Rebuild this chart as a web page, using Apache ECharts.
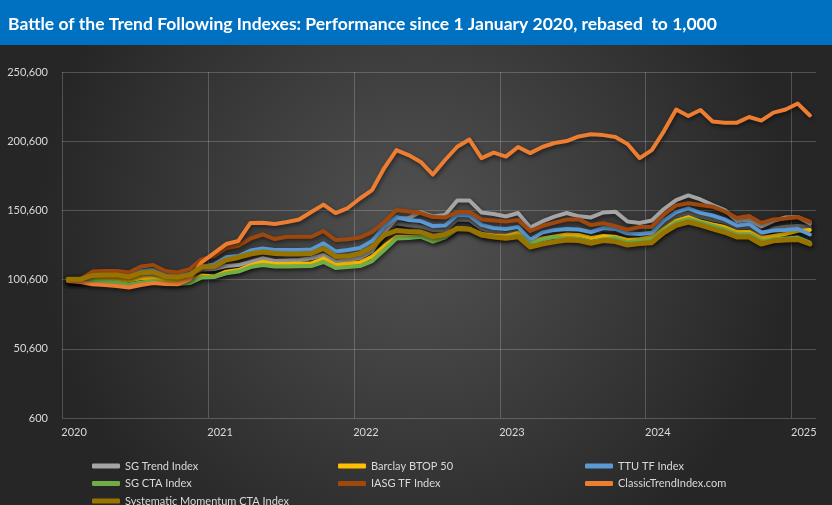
<!DOCTYPE html>
<html>
<head>
<meta charset="utf-8">
<script src="https://cdn.jsdelivr.net/npm/echarts@6/dist/echarts.min.js"></script>
<style>
  html, body { margin: 0; padding: 0; background: #2b2b2b; }
  #chart { width: 832px; height: 505px; }
</style>
</head>
<body>
<div id="chart"></div>
<script>
// 年份刻度（每 12 个月一个），月度类目 2020-01 .. 2025-02
const years = ['2020', '2021', '2022', '2023', '2024', '2025'];
const months = [];
years.forEach(y => {
  for (let m = 1; m <= 12; m++) months.push(y + '-' + String(m).padStart(2, '0'));
});
months.length = 62;

// 年分隔线所在的月序号（类目边界）
const yearBounds = [0, 12, 24, 36, 48, 60];

// y 轴刻度（千）
const yTicks = [0.6, 50.6, 100.6, 150.6, 200.6, 250.6];

// 各指数数值（千），自图中读出
const sgTrend = [100.5, 100.5, 102.5, 102.5, 102.1, 101.0, 102.1, 104.3, 102.0, 101.6, 103.2, 107.9,
  108.3, 110.4, 111.1, 113.3, 116.0, 114.0, 114.4, 114.8, 116.0, 118.4, 113.5, 114.8,
  116.2, 121.3, 135.0, 144.8, 145.1, 149.4, 146.2, 147.3, 157.8, 157.8, 149.1, 148.0,
  146.2, 148.7, 138.3, 142.6, 146.1, 148.7, 146.3, 145.5, 149.1, 149.7, 142.6, 141.5,
  143.3, 151.6, 158.1, 161.4, 158.5, 154.5, 150.9, 143.0, 143.7, 139.0, 143.0, 145.5,
  145.9, 141.1];
const barclay = [100.5, 100.5, 101.5, 101.5, 101.0, 100.0, 101.5, 101.5, 100.2, 100.0, 99.8, 103.6,
  102.8, 106.3, 107.5, 110.8, 113.3, 111.9, 111.9, 112.2, 112.4, 115.8, 111.1, 112.2,
  113.0, 117.3, 124.9, 131.4, 131.4, 131.6, 129.2, 131.4, 137.9, 137.2, 133.6, 132.5,
  132.1, 134.3, 127.8, 130.3, 131.7, 133.2, 132.8, 130.7, 132.1, 131.4, 129.2, 129.7,
  131.4, 137.2, 143.1, 145.8, 142.6, 140.4, 138.6, 135.0, 135.2, 130.7, 132.1, 133.6,
  135.9, 136.5];
const ttu = [100.5, 100.5, 104.5, 104.5, 104.0, 103.0, 107.0, 107.5, 104.0, 103.5, 105.0, 110.0,
  111.5, 116.7, 117.6, 121.6, 123.0, 122.0, 122.0, 122.0, 122.3, 126.8, 120.9, 122.0,
  123.4, 128.5, 139.3, 145.8, 143.7, 142.9, 139.3, 139.7, 147.3, 147.0, 140.1, 137.9,
  137.2, 138.7, 129.3, 134.7, 136.5, 137.2, 136.8, 135.0, 137.9, 137.2, 134.0, 133.6,
  134.4, 143.4, 149.3, 152.1, 148.8, 146.9, 144.1, 139.7, 140.8, 134.7, 136.0, 136.5,
  137.2, 133.2];
const sgCta = [100.3, 99.9, 99.6, 99.2, 98.5, 97.0, 98.5, 99.6, 97.8, 97.4, 98.1, 102.1,
  102.5, 105.1, 106.4, 109.7, 111.1, 110.0, 110.0, 110.3, 110.4, 113.3, 109.0, 109.7,
  110.4, 114.0, 122.0, 130.3, 130.6, 131.6, 128.1, 131.2, 137.2, 136.9, 132.5, 131.4,
  130.7, 132.5, 126.0, 129.6, 131.4, 130.0, 130.0, 127.4, 129.6, 130.4, 127.4, 128.7,
  129.2, 136.1, 141.9, 144.2, 141.9, 139.3, 136.8, 133.2, 133.6, 128.1, 129.7, 130.3,
  131.0, 127.4];
const iasg = [100.6, 100.8, 106.4, 106.8, 106.8, 105.7, 110.1, 111.1, 106.8, 105.7, 108.2, 115.4,
  117.6, 123.4, 125.0, 130.3, 133.2, 129.9, 131.6, 131.6, 131.6, 135.7, 129.2, 129.7,
  131.0, 135.0, 142.2, 150.9, 149.8, 148.7, 145.8, 145.4, 149.4, 149.4, 144.1, 143.3,
  142.5, 143.6, 135.7, 139.3, 141.8, 144.0, 144.1, 140.0, 141.3, 139.3, 136.6, 138.6,
  138.8, 147.7, 154.2, 155.7, 154.5, 153.3, 149.8, 145.1, 146.6, 141.5, 144.1, 144.8,
  145.9, 142.5];
const classicTrend = [99.5, 98.9, 97.2, 96.7, 96.0, 94.9, 96.7, 98.1, 97.4, 97.2, 101.0, 113.3,
  119.8, 126.3, 128.5, 141.5, 141.7, 140.8, 142.2, 144.0, 149.4, 154.8, 148.7, 152.3,
  159.2, 165.3, 181.2, 194.2, 190.6, 185.6, 176.5, 187.0, 196.6, 201.8, 188.4, 192.3,
  189.5, 196.4, 192.0, 196.4, 199.3, 200.7, 204.0, 205.6, 205.0, 203.6, 198.6, 188.4,
  194.2, 207.9, 223.5, 218.8, 223.1, 214.8, 214.0, 214.0, 218.1, 215.5, 221.2, 223.5,
  227.8, 219.2];
const sysMomentum = [100.8, 100.8, 103.6, 104.0, 104.0, 102.5, 105.4, 106.1, 102.9, 102.3, 104.0, 109.7,
  110.0, 114.8, 116.6, 119.1, 120.5, 119.5, 119.1, 119.1, 119.5, 123.1, 117.3, 117.6,
  119.5, 124.1, 132.8, 136.1, 135.4, 135.0, 131.8, 133.2, 137.5, 137.0, 132.8, 131.4,
  130.4, 131.6, 124.1, 126.3, 128.0, 129.2, 128.8, 126.8, 128.8, 128.1, 125.6, 126.6,
  127.3, 134.6, 139.8, 142.2, 140.0, 137.2, 134.8, 131.4, 131.4, 126.3, 128.6, 129.2,
  129.6, 126.3];
// 图中另有两条未列入图例的线（深灰、近黑）
const darkGrayLine = [100.5, 100.5, 103.8, 104.0, 103.8, 102.6, 106.0, 106.6, 103.4, 102.8, 104.5, 109.5,
  110.5, 115.5, 116.8, 120.0, 121.5, 120.5, 120.5, 120.6, 120.8, 124.8, 119.0, 119.8,
  121.2, 126.0, 136.0, 141.5, 139.8, 139.0, 136.4, 136.0, 144.0, 143.7, 137.2, 135.0,
  133.6, 135.4, 125.6, 128.5, 130.4, 132.5, 131.8, 129.6, 132.1, 131.6, 128.1, 129.9,
  131.6, 140.8, 146.6, 148.5, 146.2, 144.0, 142.2, 137.9, 138.8, 132.8, 137.5, 138.8,
  139.3, 138.8];
const blackLine = [99.5, 99.5, 101.0, 101.0, 100.5, 99.5, 100.8, 102.5, 100.5, 100.0, 101.5, 105.5,
  106.0, 108.5, 109.5, 112.0, 114.5, 112.8, 113.0, 113.2, 114.5, 116.8, 112.2, 113.2,
  114.8, 119.5, 130.0, 138.0, 138.5, 140.0, 136.5, 136.5, 142.5, 142.2, 136.0, 134.6,
  133.8, 136.0, 127.6, 131.2, 132.8, 134.5, 133.5, 131.5, 134.0, 133.6, 130.2, 130.4,
  132.0, 139.0, 145.0, 147.5, 145.0, 142.6, 140.6, 136.8, 137.3, 132.3, 135.5, 136.8,
  138.5, 137.4];

const seriesDefs = [
  { name: '_black', data: blackLine, color: '#1e2228', width: 3 },
  { name: '_darkgray', data: darkGrayLine, color: '#636363', width: 4 },
  { name: 'SG Trend Index', data: sgTrend, color: '#A5A5A5', width: 4 },
  { name: 'Barclay BTOP 50', data: barclay, color: '#FFC000', width: 4 },
  { name: 'TTU TF Index', data: ttu, color: '#5B9BD5', width: 4 },
  { name: 'SG CTA Index', data: sgCta, color: '#70AD47', width: 4 },
  { name: 'IASG TF Index', data: iasg, color: '#9E480E', width: 4 },
  { name: 'ClassicTrendIndex.com', data: classicTrend, color: '#ED7D31', width: 4 },
  { name: 'Systematic Momentum CTA Index', data: sysMomentum, color: '#997300', width: 5 },
];

// 图例：三列布局，逐项定位
const legendSlots = [
  ['SG Trend Index', 92, 459], ['Barclay BTOP 50', 338, 459], ['TTU TF Index', 585, 459],
  ['SG CTA Index', 92, 476.5], ['IASG TF Index', 338, 476.5], ['ClassicTrendIndex.com', 585, 476.5],
  ['Systematic Momentum CTA Index', 92, 494],
];

const FONT = 'Lato, "Open Sans", sans-serif';
const GRID_COLOR = 'rgba(255,255,255,0.2)';
const chart = echarts.init(document.getElementById('chart'));

chart.setOption({
  animation: false,
  backgroundColor: {
    type: 'radial', x: 0.5, y: 0.45, r: 0.75,
    colorStops: [{ offset: 0, color: '#525252' }, { offset: 1, color: '#262626' }],
  },
  graphic: [{
    type: 'rect', left: 0, top: 0, z: -1,
    shape: { width: 832, height: 45 },
    style: { fill: '#0070C0' },
  }],
  title: {
    text: 'Battle of the Trend Following Indexes: Performance since 1 January 2020, rebased  to 1,000',
    left: 3, top: 10,
    textStyle: { color: '#ffffff', fontSize: 17.5, fontWeight: 'bold', fontFamily: FONT },
  },
  legend: legendSlots.map(([name, left, top]) => ({
    left, top, padding: 0, itemWidth: 28, itemHeight: 5, icon: 'roundRect',
    textStyle: { color: '#d9d9d9', fontSize: 11, fontFamily: FONT, lineHeight: 14 },
    data: [name],
  })),
  grid: { left: 62, right: 16, top: 72, bottom: 87 },
  xAxis: [{
    type: 'category', data: months, boundaryGap: true,
    axisLine: { show: false }, axisTick: { show: false },
    axisLabel: {
      interval: 11, color: '#d9d9d9', fontSize: 11, fontFamily: FONT, margin: 9,
      padding: [0, 0, 0, 12], formatter: v => v.slice(0, 4),
    },
    splitLine: { show: false },
  }, {
    // 仅用于画年分隔线（类目边界），不显示刻度与标签
    type: 'value', min: 0, max: months.length, position: 'bottom',
    axisLine: { show: false }, axisLabel: { show: false },
    axisTick: { show: false, customValues: yearBounds },
    splitLine: { show: true, lineStyle: { color: GRID_COLOR, width: 1 } },
  }],
  yAxis: {
    type: 'value', min: 0.6, max: 250.6, interval: 50,
    axisLine: { show: false }, axisTick: { show: false },
    axisLabel: {
      color: '#d9d9d9', fontSize: 11, fontFamily: FONT, margin: 14,
      customValues: yTicks,
      formatter: v => Math.round(v * 1000).toLocaleString('en-US'),
    },
    splitLine: { lineStyle: { color: GRID_COLOR, width: 1 } },
  },
  series: seriesDefs.map(s => ({
    name: s.name, type: 'line', data: s.data, xAxisIndex: 0,
    showSymbol: false, symbol: 'none',
    itemStyle: { color: s.color },
    lineStyle: {
      color: s.color, width: s.width, cap: 'round', join: 'round',
      shadowColor: 'rgba(0,0,0,0.55)', shadowBlur: 4, shadowOffsetX: 1, shadowOffsetY: 2,
    },
  })),
});
</script>
</body>
</html>
